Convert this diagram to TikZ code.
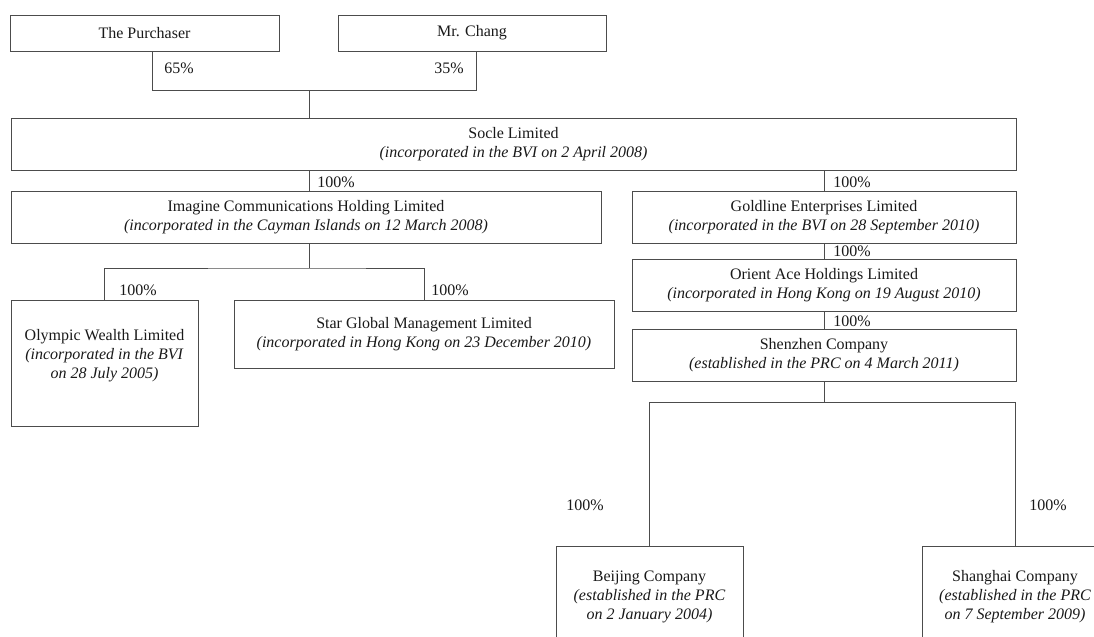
\documentclass[tikz,border=0pt]{standalone}
\usepackage{fontspec}
\setmainfont{Liberation Serif}
\usepackage{tikz}
\usetikzlibrary{positioning}
\tikzset{firm/.style 2 args = {draw=black!70, line width=0.75pt, align=center, inner sep=0pt, text=black!90, minimum width=#1*0.75pt, minimum height=#2*0.75pt}}
\tikzset{pct/.style = {text=black!90, inner sep=0pt}}
\tikzset{link/.style = {draw=black!70, line width=0.75pt}}
\begin{document}
\begin{tikzpicture}[x=0.75pt,y=-0.75pt,font=\fontsize{12pt}{14.25pt}\selectfont]
\useasboundingbox (0,0) rectangle (1094,636);
\clip (0,0) rectangle (1094,636);
\node[firm={269}{36}](pur) at (144.5,33) {The Purchaser};
\node[firm={268}{36}](chang) at (472,33) {Mr. Chang};
\node[firm={1005}{52}](socle) at (513.5,144) {Socle Limited\\ \textit{(incorporated in the BVI on 2 April 2008)}};
\node[firm={590}{52}](imag) at (306,217) {Imagine Communications Holding Limited\\ \textit{(incorporated in the Cayman Islands on 12 March 2008)}};
\node[firm={384}{52}](gold) at (824,217) {Goldline Enterprises Limited\\ \textit{(incorporated in the BVI on 28 September 2010)}};
\node[firm={384}{52}](orient) at (824,285) {Orient Ace Holdings Limited\\ \textit{(incorporated in Hong Kong on 19 August 2010)}};
\node[firm={384}{52}](shen) at (824,355) {Shenzhen Company\\ \textit{(established in the PRC on 4 March 2011)}};
\node[firm={187}{126}](oly) at (104.5,363) {Olympic Wealth Limited\\ \textit{(incorporated in the BVI}\\ \textit{on 28 July 2005)}\\ \mbox{}};
\node[firm={380}{68}](star) at (424,334) {Star Global Management Limited\\ \textit{(incorporated in Hong Kong on 23 December 2010)}};
\node[firm={187}{102}](beij) at (649.5,597) {Beijing Company\\ \textit{(established in the PRC}\\ \textit{on 2 January 2004)}};
\node[firm={186}{102}](shang) at (1015,597) {Shanghai Company\\ \textit{(established in the PRC}\\ \textit{on 7 September 2009)}};
% junctions
\coordinate (pb) at (152,90.7);
\coordinate (cb) at (476,90.7);
\coordinate (j1) at (309,90.7);
\coordinate (j2) at (309,268);
\coordinate (j3) at (824,402);
\draw[link] (pb |- pur.south) -- (pb) -- (cb) -- (cb |- chang.south);
\draw[link] (j1) -- (j1 |- socle.north);
\draw[link] (j1 |- socle.south) -- (j1 |- imag.north);
\draw[link] (gold.north |- socle.south) -- (gold.north);
\draw[link] (gold.south) -- (orient.north);
\draw[link] (orient.south) -- (shen.north);
\draw[link] (j2 |- imag.south) -- (j2);
\draw[link] (oly.north) |- (j2) -| (star.north);
\draw[link] (shen.south) -- (j3);
\draw[link] (beij.north) |- (j3) -| (shang.north);
% shareholdings
\node[pct](p65) at (179,68) {65\%};
\node[pct](p35) at (449,68) {35\%};
\node[pct](pimag) at (336,182) {100\%};
\node[pct](pgold) at (852,182) {100\%};
\node[pct](porient) at (852,251) {100\%};
\node[pct](pshen) at (852,321) {100\%};
\node[pct](poly) at (138,290) {100\%};
\node[pct](pstar) at (450,290) {100\%};
\node[pct](pbeij) at (585,505) {100\%};
\node[pct](pshang) at (1048,505) {100\%};
\end{tikzpicture}
\end{document}
